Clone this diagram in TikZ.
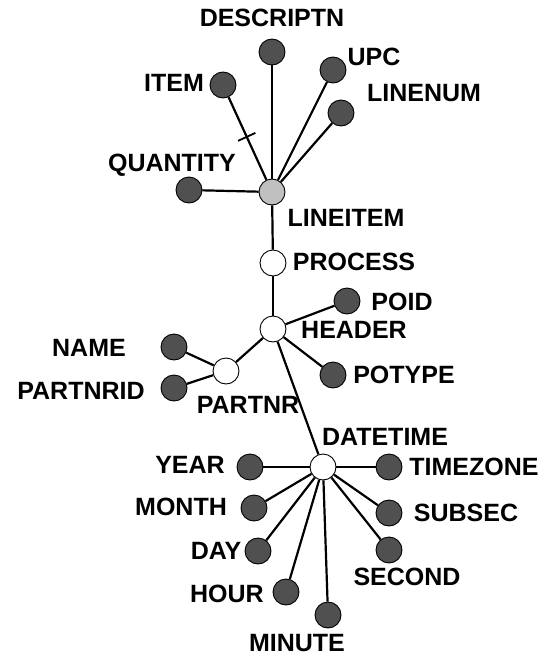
\documentclass[tikz,border=0pt]{standalone}
\usepackage{fontspec}
\setmainfont{Liberation Sans}
\usetikzlibrary{calc}
\definecolor{leafgray}{RGB}{80,80,80}
\definecolor{rootgray}{RGB}{192,192,192}
\begin{document}
\begin{tikzpicture}[x=1pt,y=-1pt,
  leaf/.style={circle,draw=black,line width=0.9pt,fill=leafgray,minimum size=26pt,inner sep=0pt},
  inner/.style={circle,draw=black,line width=0.9pt,fill=white,minimum size=26pt,inner sep=0pt},
  root/.style={circle,draw=black,line width=0.9pt,fill=rootgray,minimum size=26pt,inner sep=0pt},
  lbl/.style={font=\fontsize{25}{29}\selectfont\bfseries,inner sep=0pt,text height=17.9pt,text depth=0pt},
  link/.style={line width=2.2pt}]
\useasboundingbox (0,0) rectangle (545,656);

% element nodes
\node[root]  (lineitem) at (272,192) {};
\node[leaf]  (descr)    at (272,52)  {};
\node[leaf]  (upc)      at (333,70)  {};
\node[leaf]  (item)     at (223,85)  {};
\node[leaf]  (linenum)  at (341,113) {};
\node[leaf]  (quantity) at (189,190) {};
\node[inner] (process)  at (273,263) {};
\node[inner] (header)   at (273,329) {};
\node[leaf]  (poid)     at (347,301) {};
\node[leaf]  (potype)   at (333,375) {};
\node[inner] (partnr)   at (226,371) {};
\node[leaf]  (name)     at (174,347) {};
\node[leaf]  (partnrid) at (174,388) {};
\node[inner] (datetime) at (323,467) {};
\node[leaf]  (year)     at (250,467) {};
\node[leaf]  (month)    at (254,508) {};
\node[leaf]  (day)      at (258,551) {};
\node[leaf]  (hour)     at (286,592) {};
\node[leaf]  (minute)   at (328,615) {};
\node[leaf]  (timezone) at (389,467) {};
\node[leaf]  (subsec)   at (389,513) {};
\node[leaf]  (second)   at (389,550) {};

% labels
\node[lbl] (tDescr)    at (272,18)  {DESCRIPTN};
\node[lbl] (tUpc)      at (374,57)  {UPC};
\node[lbl] (tItem)     at (174,83)  {ITEM};
\node[lbl] (tLinenum)  at (424,93)  {LINENUM};
\node[lbl] (tQuantity) at (172,163) {QUANTITY};
\node[lbl] (tLineitem) at (346,218) {LINEITEM};
\node[lbl] (tProcess)  at (354,262) {PROCESS};
\node[lbl] (tPoid)     at (402,302) {POID};
\node[lbl] (tHeader)   at (354,330) {HEADER};
\node[lbl] (tName)     at (89,348)  {NAME};
\node[lbl] (tPartnrid) at (81,391)  {PARTNRID};
\node[lbl] (tPotype)   at (404,375) {POTYPE};
\node[lbl] (tPartnr)   at (248,405) {PARTNR};
\node[lbl] (tDatetime) at (385,437) {DATETIME};
\node[lbl] (tYear)     at (190,465) {YEAR};
\node[lbl] (tTimezone) at (474,467) {TIMEZONE};
\node[lbl] (tMonth)    at (181,507) {MONTH};
\node[lbl] (tSubsec)   at (466,513) {SUBSEC};
\node[lbl] (tDay)      at (216,551) {DAY};
\node[lbl] (tSecond)   at (407,577) {SECOND};
\node[lbl] (tHour)     at (227,594) {HOUR};
\node[lbl] (tMinute)   at (297,643) {MINUTE};

% connectors
\draw[link] (lineitem) -- (descr);
\draw[link] (lineitem) -- (upc);
\draw[link] (lineitem) -- (linenum);
\draw[link] (lineitem) -- (item) coordinate[pos=0.52] (itemtick);
\draw[link] (lineitem) -- (quantity);
\draw[link] (lineitem) -- (process);
\draw[link] (process) -- (header);
\draw[link] (header) -- (poid);
\draw[link] (header) -- (potype);
\draw[link] (header) -- (partnr);
\draw[link] (header) -- (datetime);
\draw[link] (partnr) -- (name);
\draw[link] (partnr) -- (partnrid);
\foreach \t in {year,month,day,hour,minute,timezone,subsec,second}
  \draw[link] (datetime) -- (\t);

% cross mark on the ITEM link
\draw[line width=1.8pt] ($(itemtick)!9.5pt!90:(item)$) -- ($(itemtick)!9.5pt!-90:(item)$);
\end{tikzpicture}
\end{document}
